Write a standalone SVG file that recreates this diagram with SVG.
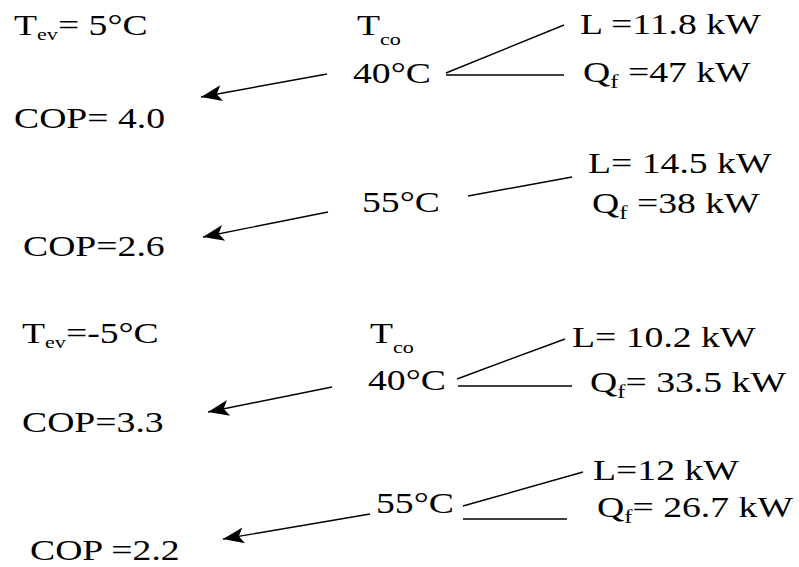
<svg xmlns="http://www.w3.org/2000/svg" width="799" height="567" viewBox="0 0 799 567">
<style>
.t{font-family:'Liberation Serif','Times New Roman',serif;font-size:29px;fill:#000}
.s{font-size:17px}
.f{font-size:19px}
.ln{stroke:#000;stroke-width:1.4;fill:none}
.ar{stroke:#000;stroke-width:1.4;fill:none;marker-end:url(#ah)}
</style>
<defs>
<marker id="ah" markerUnits="userSpaceOnUse" markerWidth="24" markerHeight="20" viewBox="0 -10 24 20" refX="21" refY="0" orient="auto">
<path d="M0,-8 L21,0 L0,8 L5,0 Z" fill="#000"/>
</marker>
</defs>
<rect width="799" height="567" fill="#fff"/>
<g id="connectors">
<line class="ar" x1="327" y1="74" x2="201" y2="97"/>
<line class="ln" x1="446" y1="73" x2="564" y2="25"/>
<line class="ln" x1="446" y1="75" x2="564" y2="75"/>
<line class="ar" x1="328" y1="212" x2="203" y2="237"/>
<line class="ln" x1="468" y1="196" x2="572" y2="177"/>
<line class="ar" x1="332" y1="387" x2="208" y2="412"/>
<line class="ln" x1="457" y1="379" x2="565" y2="339"/>
<line class="ln" x1="458" y1="386" x2="572" y2="386"/>
<line class="ar" x1="370" y1="514" x2="223" y2="539"/>
<line class="ln" x1="463" y1="506" x2="583" y2="472"/>
<line class="ln" x1="463" y1="519" x2="567" y2="519"/>
</g>
<g id="tev1"><text class="t" transform="translate(14,35) scale(1.3,1)">T<tspan class="s" dy="5">ev</tspan><tspan dy="-5">= 5°C</tspan></text></g>
<g id="tco1"><text class="t" transform="translate(357,35) scale(1.3,1)">T<tspan class="s" dy="10">co</tspan></text></g>
<g id="c40a"><text class="t" transform="translate(353,83) scale(1.3,1)">40°C</text></g>
<g id="cop1"><text class="t" transform="translate(14,128) scale(1.3,1)">COP= 4.0</text></g>
<g id="l1"><text class="t" transform="translate(580,34) scale(1.3,1)">L =11.8 kW</text></g>
<g id="q1"><text class="t" transform="translate(583,82) scale(1.3,1)">Q<tspan class="f" dy="6">f</tspan><tspan dy="-6"> =47 kW</tspan></text></g>
<g id="c55a"><text class="t" transform="translate(362,212) scale(1.3,1)">55°C</text></g>
<g id="cop2"><text class="t" transform="translate(23,256) scale(1.3,1)">COP=2.6</text></g>
<g id="l2"><text class="t" transform="translate(588,173) scale(1.3,1)">L= 14.5 kW</text></g>
<g id="q2"><text class="t" transform="translate(592,213) scale(1.3,1)">Q<tspan class="f" dy="6">f</tspan><tspan dy="-6"> =38 kW</tspan></text></g>
<g id="tev2"><text class="t" transform="translate(22,343) scale(1.3,1)">T<tspan class="s" dy="5">ev</tspan><tspan dy="-5">=-5°C</tspan></text></g>
<g id="tco2"><text class="t" transform="translate(370,343) scale(1.3,1)">T<tspan class="s" dy="10">co</tspan></text></g>
<g id="c40b"><text class="t" transform="translate(368,390) scale(1.3,1)">40°C</text></g>
<g id="cop3"><text class="t" transform="translate(22,432) scale(1.3,1)">COP=3.3</text></g>
<g id="l3"><text class="t" transform="translate(572,347) scale(1.3,1)">L= 10.2 kW</text></g>
<g id="q3"><text class="t" transform="translate(590,392) scale(1.3,1)">Q<tspan class="f" dy="6">f</tspan><tspan dy="-6">= 33.5 kW</tspan></text></g>
<g id="c55b"><text class="t" transform="translate(376,513) scale(1.3,1)">55°C</text></g>
<g id="cop4"><text class="t" transform="translate(30,560) scale(1.3,1)">COP =2.2</text></g>
<g id="l4"><text class="t" transform="translate(593,480) scale(1.3,1)">L=12 kW</text></g>
<g id="q4"><text class="t" transform="translate(597,517) scale(1.3,1)">Q<tspan class="f" dy="6">f</tspan><tspan dy="-6">= 26.7 kW</tspan></text></g>
</svg>
